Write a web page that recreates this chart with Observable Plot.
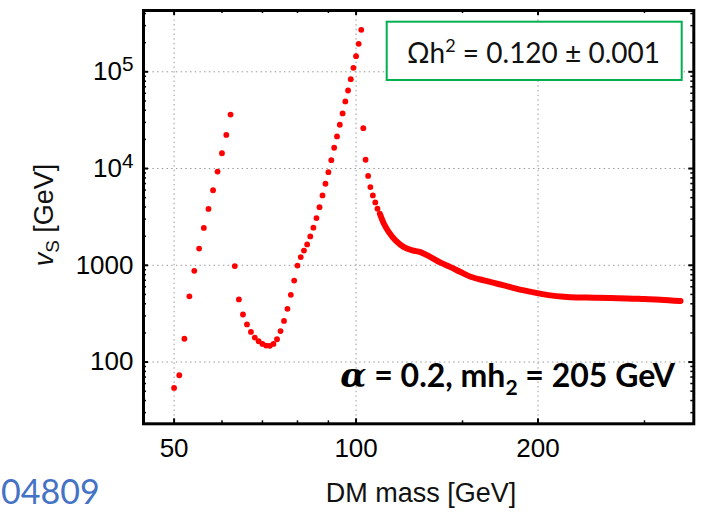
<!DOCTYPE html>
<html><head><meta charset="utf-8">
<script src="https://cdn.jsdelivr.net/npm/d3@7"></script>
<script src="https://cdn.jsdelivr.net/npm/@observablehq/plot@0.6"></script>
<style>html,body{margin:0;padding:0;background:#fff;overflow:hidden}</style>
</head><body><div id="chart"></div>
<script>
// ---- data ----
const branch1Mass = [50,51,52,53,54,55,56,57,58,59,60,61,62];
const branch1Vs   = [54,73,174,478,877,1488,2431,3822,5964,9311,14390,22260,36150];
const branch2Mass = [63,64,65,66,67,68,69,70,71,72,73,74,75,76,77,78,79,80,81,82,
                     83,84,85,86,87,88,89,90,91,92,93,94,95,96,97,98,99,100,101,102];
const branch2Vs   = [981,444,310,245,205,179,164,154,148,147,154,172,209,266,355,495,695,993,1215,1419,
                     1644,1989,2446,3073,3992,5275,6966,9180,12210,16400,21460,28350,37100,49340,64100,83850,110000,145000,194700,271600];
const dropMass = [102.8,103.7,104.7,105.6,106.6,107.6,108.5];
const dropVs   = [26150,12330,8385,6427,5275,4465,3843];
const tailMass = [109.5,111.2,113.3,116.2,120.0,123.9,127.8,132.8,138.0,143.3,148.9,154.7,162.7,171.2,180.1,189.5,199.4,209.7,220.7,232.2,247.4,263.6,280.9,299.3,318.9,344.1];
const tailVs   = [3412,2690,2203,1808,1542,1425,1369,1215,1064,958,851,762,698,645,595,550,516,489,474,466,463,458,455,448,441,427];

const xTickValues = [50,100,200];
const xMinorTicks = [60,70,80,90,150,300];
const yTickValues = [100,1000,10000,100000];
const yMinorTicks = [30,40,50,60,70,80,90,200,300,400,500,600,700,800,900,
                     2000,3000,4000,5000,6000,7000,8000,9000,
                     20000,30000,40000,50000,60000,70000,80000,90000,200000,300000,400000];

const xLabel = "DM mass [GeV]";
const relicText = ["Ωh", "2", " = 0.120 ± 0.001"];
const paramText = ["α", " = 0.2, mh", "2", " = 205 GeV"];
const refText = "04809";

// ---- build tables ----
const dots = [
  ...branch1Mass.map((m,i)=>({m, v: branch1Vs[i]})),
  ...branch2Mass.map((m,i)=>({m, v: branch2Vs[i]})),
  ...dropMass.map((m,i)=>({m, v: dropVs[i]}))
];
const tail = tailMass.map((m,i)=>({m, v: tailVs[i]}));

const W = 703, H = 513;
const mL = 143, mR = 9.7, mT = 10, mB = 89.7;
const innerH = H - mT - mB, innerW = W - mL - mR;
const RED = "#ff0000";
const F = "Liberation Sans, Arial, sans-serif";
const FS = "Lato, 'Open Sans', sans-serif";

const supFmt = d => d >= 10000 ? "10^" + Math.round(Math.log10(d)) : String(d);

const plot = Plot.plot({
  width: W, height: H,
  marginLeft: mL, marginRight: mR, marginTop: mT, marginBottom: mB,
  style: {fontFamily: F, fontSize: "26px", background: "white", color: "black", overflow: "visible"},
  x: {type: "log", domain: [44.5, 362], ticks: xTickValues, tickFormat: d => String(d), tickSize: 0, tickPadding: 15, label: null},
  y: {type: "log", domain: [23, 430000], ticks: yTickValues, tickFormat: supFmt, tickSize: 0, tickPadding: 10, label: null},
  marks: [
    Plot.ruleX(xTickValues, {x: d => d, stroke: "#9a9a9a", strokeWidth: 1, strokeDasharray: "1.5,3.2"}),
    Plot.ruleY(yTickValues, {y: d => d, stroke: "#9a9a9a", strokeWidth: 1, strokeDasharray: "1.5,3.2"}),
    // inward frame ticks
    Plot.tickX(xTickValues, {x: d => d, insetTop: innerH - 5, stroke: "black", strokeWidth: 2}),
    Plot.tickX(xTickValues, {x: d => d, insetBottom: innerH - 5, stroke: "black", strokeWidth: 2}),
    Plot.tickX(xMinorTicks, {x: d => d, insetTop: innerH - 3, stroke: "black", strokeWidth: 1.5}),
    Plot.tickX(xMinorTicks, {x: d => d, insetBottom: innerH - 3, stroke: "black", strokeWidth: 1.5}),
    Plot.tickY(yTickValues, {y: d => d, insetRight: innerW - 5, stroke: "black", strokeWidth: 2}),
    Plot.tickY(yTickValues, {y: d => d, insetLeft: innerW - 5, stroke: "black", strokeWidth: 2}),
    Plot.tickY(yMinorTicks, {y: d => d, insetRight: innerW - 3, stroke: "black", strokeWidth: 1.5}),
    Plot.tickY(yMinorTicks, {y: d => d, insetLeft: innerW - 3, stroke: "black", strokeWidth: 1.5}),
    // data
    Plot.line(tail, {x: "m", y: "v", stroke: RED, strokeWidth: 6, curve: "catmull-rom", strokeLinecap: "round", strokeLinejoin: "round"}),
    Plot.dot(dots, {x: "m", y: "v", r: 2.9, fill: RED, stroke: "none"}),
    Plot.frame({stroke: "black", strokeWidth: 3})
  ]
});
document.getElementById("chart").appendChild(plot);

const svg = d3.select(plot);
// axis label styling & superscripts
svg.selectAll("text").each(function() {
  const t = d3.select(this);
  const s = this.textContent;
  const m = /^10\^(\d)$/.exec(s);
  if (m) {
    t.text(null);
    t.append("tspan").text("10");
    t.append("tspan").attr("dy", "-0.45em").attr("font-size", "0.8em").text(m[1]);
  }
  if (/^(10\^\d|\d+)$/.test(s)) t.attr("font-size", 26).attr("font-family", F);
});

// annotation box (white fill, green border)
svg.append("rect").attr("x", 386.7).attr("y", 21.7).attr("width", 295).attr("height", 58.3)
  .attr("fill", "white").attr("stroke", "#00b050").attr("stroke-width", 2);
const rt = svg.append("text").attr("x", 533.5).attr("y", 62.5).attr("text-anchor", "middle")
  .attr("font-family", FS).attr("font-size", 28).attr("fill", "#111");
rt.append("tspan").text(relicText[0]);
rt.append("tspan").attr("dy", -11).attr("font-size", 18).text(relicText[1]);
rt.append("tspan").attr("dy", 11).text(relicText[2]);

// parameter annotation
const pt = svg.append("text").attr("x", 675).attr("y", 387).attr("text-anchor", "end")
  .attr("font-family", FS).attr("font-size", 32).attr("font-weight", "bold").attr("fill", "black");
pt.append("tspan").attr("font-family", "DejaVu Serif, serif").attr("font-style", "italic").attr("font-size", 34).text(paramText[0]);
pt.append("tspan").text(paramText[1]);
pt.append("tspan").attr("dy", 8).attr("font-size", 21).text(paramText[2]);
pt.append("tspan").attr("dy", -8).text(paramText[3]);

// axis titles
svg.append("text").attr("x", 421).attr("y", 502).attr("text-anchor", "middle")
  .attr("font-family", F).attr("font-size", 27).attr("fill", "#111").text(xLabel);
const yl = svg.append("text").attr("transform", "translate(53,215) rotate(-90)").attr("text-anchor", "middle")
  .attr("font-family", F).attr("font-size", 27).attr("fill", "#111");
yl.append("tspan").attr("font-style", "italic").text("v");
yl.append("tspan").attr("dy", 6).attr("font-size", 19).text("S");
yl.append("tspan").attr("dy", -6).text(" [GeV]");

// reference number at bottom left
svg.append("text").attr("x", 1).attr("y", 504).attr("text-anchor", "start").attr("font-family", FS).attr("font-size", 34)
  .attr("fill", "#4472c4").text(refText);
</script></body></html>
